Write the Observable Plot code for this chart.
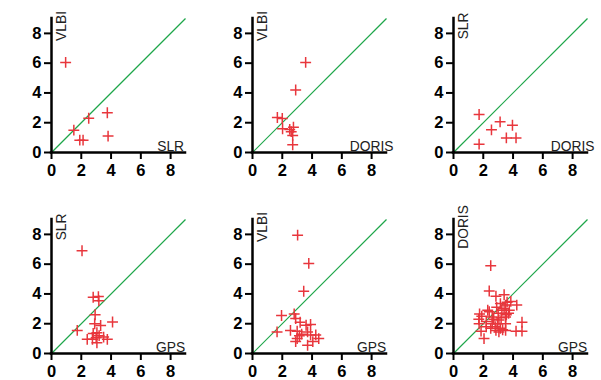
<!DOCTYPE html>
<html><head><meta charset="utf-8">
<script src="https://cdn.jsdelivr.net/npm/d3@7"></script>
<script src="https://cdn.jsdelivr.net/npm/@observablehq/plot@0.6"></script>
<style>
body{margin:0;background:#fff;}
#chart{position:relative;width:601px;height:380px;overflow:hidden;font-family:"Liberation Sans",Arial,sans-serif;}
#chart svg{position:absolute;}
</style></head><body><div id="chart"></div>
<script>
// tick values and axis extent
const tickValues = [0, 2, 4, 6, 8];
const axisMax = 9;
const diagonal = [[0, 9]];
const xTitleAt = 8;
const yTitleAt = 8.5;

// panel names: [x technique, y technique]
const panelNames = [["SLR", "VLBI"], ["DORIS", "VLBI"], ["DORIS", "SLR"],
                    ["GPS", "SLR"], ["GPS", "VLBI"], ["GPS", "DORIS"]];

// [x, y] pairs per panel
const slrVlbi = [[0.95, 6.05], [1.5, 1.5], [2.5, 2.3], [3.75, 2.67], [3.8, 1.1], [1.9, 0.83], [2.12, 0.83]];
const dorisVlbi = [[3.57, 6.05], [2.9, 4.2], [1.67, 2.35], [2.0, 2.28], [2.02, 1.6], [2.5, 1.55],
                   [2.6, 1.4], [2.75, 1.7], [2.7, 1.15], [2.7, 0.52]];
const dorisSlr = [[1.72, 2.55], [1.72, 0.56], [2.55, 1.52], [3.13, 2.06], [3.96, 1.83], [3.55, 0.98], [4.2, 0.98]];
const gpsSlr = [[2.05, 6.9], [1.73, 1.55], [2.8, 3.78], [3.15, 3.82], [3.18, 3.55], [2.93, 2.6], [2.9, 2.0],
                [3.3, 1.88], [4.1, 2.12], [2.4, 0.95], [2.8, 1.35], [2.75, 0.95], [3.0, 1.05], [3.05, 0.72],
                [3.2, 1.2], [3.5, 1.1], [3.75, 0.95], [3.05, 1.4]];
const gpsVlbi = [[3.03, 7.95], [3.78, 6.05], [3.44, 4.18], [1.95, 2.55], [1.65, 1.45], [2.8, 2.65], [2.9, 2.35],
                 [3.2, 2.1], [2.55, 1.55], [3.0, 1.5], [3.0, 1.0], [2.9, 0.8], [3.6, 1.9], [3.9, 1.95],
                 [3.7, 1.45], [3.9, 1.25], [4.25, 1.25], [4.45, 1.0], [3.7, 0.55], [4.05, 0.8], [3.3, 1.3], [3.15, 1.2]];
const gpsDoris = [[2.5, 5.9], [2.4, 4.2], [2.85, 3.85], [3.4, 3.95], [3.85, 3.5], [4.25, 3.25], [2.3, 2.9],
                  [1.75, 2.65], [1.7, 2.3], [1.72, 2.0], [1.85, 1.5], [2.05, 1.0], [2.4, 2.8], [2.6, 2.45],
                  [2.6, 2.0], [2.9, 3.1], [3.0, 2.7], [3.15, 3.35], [3.25, 2.9], [3.05, 2.25], [2.8, 1.8],
                  [3.15, 1.7], [3.5, 3.25], [3.5, 2.45], [3.5, 2.0], [3.05, 1.45], [2.85, 1.55], [3.6, 3.45],
                  [3.4, 3.0], [3.7, 2.7], [3.55, 2.6], [4.6, 2.1], [4.6, 1.5], [4.2, 1.5], [3.5, 1.55],
                  [2.2, 2.15], [2.5, 1.7], [2.7, 2.3], [3.2, 2.4], [2.95, 2.0], [3.3, 1.6], [2.2, 1.8],
                  [1.9, 2.5], [3.75, 2.9]];

const panelData = [slrVlbi, dorisVlbi, dorisSlr, gpsSlr, gpsVlbi, gpsDoris];

const red = "#e8363c";
const green = "#1ea64a";
const chart = document.getElementById("chart");

panelData.forEach((pts, i) => {
  const [xName, yName] = panelNames[i];
  const col = i % 3, row = Math.floor(i / 3);
  const svg = Plot.plot({
    width: 199, height: 179,
    marginLeft: 51, marginRight: 14, marginTop: 18, marginBottom: 27,
    style: {fontFamily: "'Liberation Sans', Arial, sans-serif", background: "transparent", overflow: "visible"},
    x: {domain: [0, axisMax]},
    y: {domain: [0, axisMax]},
    marks: [
      Plot.link(diagonal, {x1: d => d[0], y1: d => d[0], x2: d => d[1], y2: d => d[1], stroke: green, strokeWidth: 1.2}),
      Plot.axisX(tickValues, {tickSize: 7, tickPadding: 5, strokeWidth: 2, fontSize: 16.5, fontWeight: "bold", fill: "black", label: null}),
      Plot.axisY(tickValues, {tickSize: 7, tickPadding: 3, strokeWidth: 2, fontSize: 16.5, fontWeight: "bold", fill: "black", label: null}),
      Plot.ruleY([0], {x1: 0, x2: axisMax, stroke: "black", strokeWidth: 2.5, strokeLinecap: "square"}),
      Plot.ruleX([0], {y1: 0, y2: axisMax, stroke: "black", strokeWidth: 2.5, strokeLinecap: "square"}),
      Plot.dot(pts, {x: d => d[0], y: d => d[1], symbol: "plus", r: 3.6, stroke: red, strokeWidth: 1.5}),
      Plot.text([xName], {x: xTitleAt, y: 0, text: d => d, textAnchor: "middle", lineAnchor: "bottom", dy: -2, fontSize: 13.8, fill: "#222"}),
      Plot.text([yName], {x: 0, y: yTitleAt, text: d => d, rotate: -90, textAnchor: "middle", lineAnchor: "top", dx: 5, fontSize: 13.8, fill: "#222"})
    ]
  });
  svg.style.left = (col * 201) + "px";
  svg.style.top = (row * 201) + "px";
  chart.appendChild(svg);
});
</script>
</body></html>
